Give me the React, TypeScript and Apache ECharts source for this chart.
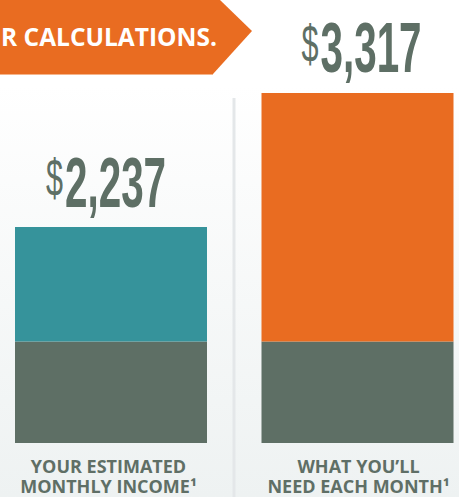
import { useEffect, useRef } from "react";
import * as echarts from "echarts";

const categories = ["YOUR ESTIMATED\nMONTHLY INCOME¹", "WHAT YOU’LL\nNEED EACH MONTH¹"];
const baseValues = [1317, 1317];
const topValues = [920, 2000];
const topColors = ["#36939b", "#e96c21"];
const bannerText = "R CALCULATIONS.";
const axisMin = 500;
const axisMax = 4000;

const GREY = "#5e6f65";
const DIGIT_FAMILY = '"Liberation Sans Narrow", "Liberation Sans", sans-serif';
const labelShift = [-5, 4];
const catPadding = [[0, 5, 0, 0], [0, 0, 0, 2]];

export default function App() {
  const ref = useRef<HTMLDivElement>(null);
  useEffect(() => {
    document.body.style.margin = "0";
    const chart = echarts.init(ref.current!, null, { renderer: "svg" });
    const totals = baseValues.map((v, i) => v + topValues[i]);
    chart.setOption({
      animation: false,
      backgroundColor: new echarts.graphic.LinearGradient(0, 0, 0, 1, [
        { offset: 0, color: "#ffffff" },
        { offset: 0.17, color: "#ffffff" },
        { offset: 1, color: "#eef2f2" },
      ]),
      grid: { left: -12.25, width: 493, top: 8, bottom: 54, outerBoundsMode: "none", containLabel: false },
      xAxis: {
        type: "category",
        data: categories.map((c, i) => ({ value: c, textStyle: { padding: catPadding[i] } })),
        axisLine: { show: false },
        axisTick: { show: false },
        axisLabel: {
          color: "#5f6f66",
          fontFamily: "Open Sans",
          fontWeight: "bold",
          fontSize: 18,
          lineHeight: 20,
          margin: 13,
        },
      },
      yAxis: { type: "value", min: axisMin, max: axisMax, show: false },
      series: [
        {
          type: "bar",
          stack: "t",
          data: baseValues,
          barWidth: 192,
          clip: true,
          itemStyle: { color: GREY },
        },
        {
          type: "bar",
          stack: "t",
          barWidth: 192,
          clip: true,
          data: topValues.map((v, i) => ({ value: v, itemStyle: { color: topColors[i] } })),
        },
      ],
    });

    const ctx = document.createElement("canvas").getContext("2d")!;
    const digitSize = 70;
    const dollarSize = 52;
    const digitFont = `bold ${digitSize}px ${DIGIT_FAMILY}`;
    const dollarFont = `${dollarSize}px ${DIGIT_FAMILY}`;
    const fmt = (n: number) => n.toLocaleString("en-US");
    ctx.font = digitFont;
    const refW = ctx.measureText(fmt(totals[1])).width;
    const s = 101 / refW;
    ctx.font = dollarFont;
    const s$ = 17 / ctx.measureText("$").width;

    const labelEls: any[] = [];
    totals.forEach((t, i) => {
      const p = chart.convertToPixel({ xAxisIndex: 0, yAxisIndex: 0 }, [i, t]) as number[];
      const cx = p[0] + labelShift[i];
      const topY = p[1];
      ctx.font = digitFont;
      const wd = ctx.measureText(fmt(t)).width * s;
      const w$ = 17;
      const total = w$ + 2 + wd;
      const left = cx - total / 2;
      const cy = topY - 45;
      labelEls.push({
        type: "text",
        x: left,
        y: cy - 4,
        scaleX: s$,
        z: 10,
        style: {
          text: "$",
          x: 0,
          y: 0,
          textAlign: "left",
          textVerticalAlign: "middle",
          font: dollarFont,
          fill: GREY,
        },
      });
      labelEls.push({
        type: "text",
        x: left + w$ + 2,
        y: cy,
        scaleX: s,
        z: 10,
        style: {
          text: fmt(t),
          x: 0,
          y: 0,
          textAlign: "left",
          textVerticalAlign: "middle",
          font: digitFont,
          fill: GREY,
        },
      });
    });

    chart.setOption({
      graphic: [
        {
          type: "line",
          z: 1,
          shape: { x1: 234, y1: 98, x2: 234, y2: 497 },
          style: { stroke: "#e4e7e9", lineWidth: 3 },
        },
        {
          type: "polygon",
          z: 20,
          shape: { points: [[0, 0], [220, 0], [252, 31], [213, 74], [0, 74]] },
          style: { fill: "#e96c21" },
        },
        {
          type: "line",
          z: 20,
          shape: { x1: 0, y1: 74.5, x2: 213, y2: 74.5 },
          style: { stroke: "#f5b48a", lineWidth: 1 },
        },
        {
          type: "text",
          z: 21,
          style: {
            text: bannerText,
            x: 1,
            y: 36,
            textAlign: "left",
            textVerticalAlign: "middle",
            font: 'bold 24.5px "Open Sans"',
            fill: "#ffffff",
          },
        },
        ...labelEls,
      ],
    });

    return () => chart.dispose();
  }, []);
  return <div ref={ref} style={{ position: "absolute", left: 0, top: 0, width: 459, height: 497 }} />;
}
